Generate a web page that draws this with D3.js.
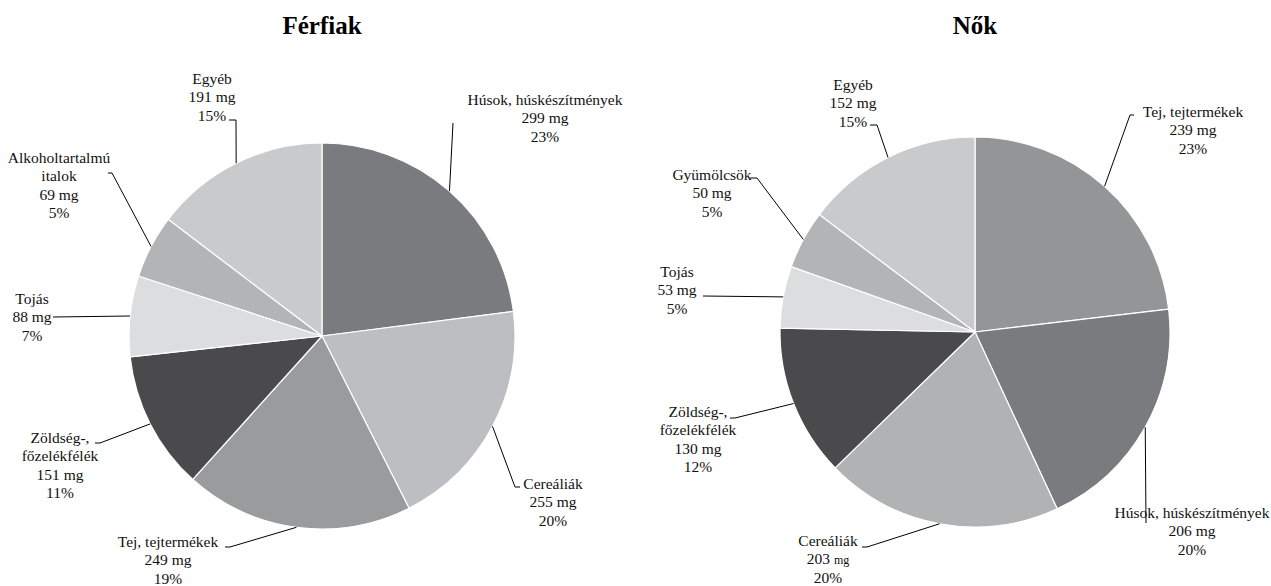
<!DOCTYPE html>
<html lang="hu">
  <head>
    <meta charset="UTF-8" />
    <script src="https://d3js.org/d3.v7.min.js"></script>
    <title>Férfiak / Nők</title>
    <style>
      body { margin: 0; background: #fff; }
    </style>
  </head>
  <body>
    <svg id="chart" width="1271" height="586"></svg>
    <script>
      // Férfiak
      const menCategories = ["Húsok, húskészítmények", "Cereáliák", "Tej, tejtermékek",
        "Zöldség-,|főzelékfélék", "Tojás", "Alkoholtartalmú|italok", "Egyéb"];
      const menValues = [299, 255, 249, 151, 88, 69, 191];
      const menPercents = [23, 20, 19, 11, 7, 5, 15];
      const menColors = ["#7a7b7f", "#bdbec1", "#9a9b9d", "#4a4a4c", "#dcdddf", "#b3b4b6", "#c9cacc"];

      // Nők
      const womenCategories = ["Tej, tejtermékek", "Húsok, húskészítmények", "Cereáliák",
        "Zöldség-,|főzelékfélék", "Tojás", "Gyümölcsök", "Egyéb"];
      const womenValues = [239, 206, 203, 130, 53, 50, 152];
      const womenPercents = [23, 20, 20, 12, 5, 5, 15];
      const womenColors = ["#949597", "#7a7b7f", "#b0b2b4", "#4a4a4c", "#dcdddf", "#b3b4b6", "#c9cacc"];

      // label placement relative to pie centre: text centre x, first baseline y,
      // leader start point and elbow
      const menLabelPos = [
        { tx: 223, ty: -231, s: [131, -213], e: [131, -213] },
        { tx: 231, ty: 153, s: [198, 151], e: [193, 151] },
        { tx: -154, ty: 211, s: [-97, 211], e: [-92, 211] },
        { tx: -262, ty: 107, s: [-227, 107], e: [-222, 107] },
        { tx: -290, ty: -32, s: [-269, -19], e: [-269, -19] },
        { tx: -263, ty: -173, s: [-214, -163], e: [-210, -163] },
        { tx: -110, ty: -252, s: [-93, -216], e: [-86, -216] },
      ];
      const womenLabelPos = [
        { tx: 218, ty: -215, s: [159, -217], e: [155, -217] },
        { tx: 217, ty: 186, s: [171, 191], e: [171, 191] },
        { tx: -147, ty: 214, s: [-113, 215], e: [-108, 215], smallUnit: true },
        { tx: -277, ty: 85, s: [-245, 86], e: [-240, 86] },
        { tx: -298, ty: -55, s: [-272, -36], e: [-272, -36] },
        { tx: -263, ty: -152, s: [-225, -154], e: [-218, -154] },
        { tx: -122, ty: -242, s: [-105, -207], e: [-98, -207] },
      ];

      const svg = d3.select("#chart");
      const serif = "'Liberation Serif', 'Times New Roman', Times, serif";
      const lineH = 18.3;

      const drawPie = (title, cats, vals, pcts, colors, pos, cx, cy, r) => {
        const g = svg.append("g").attr("transform", `translate(${cx},${cy})`);

        svg.append("text")
          .attr("x", cx)
          .attr("y", 34)
          .attr("text-anchor", "middle")
          .attr("font-family", serif)
          .attr("font-size", 25)
          .attr("font-weight", "bold")
          .attr("fill", "#000")
          .text(title);

        const data = cats.map((c, i) => ({ cat: c, value: vals[i], pct: pcts[i], color: colors[i], pos: pos[i] }));
        const pie = d3.pie().sort(null).value((d) => d.value);
        const arc = d3.arc().innerRadius(0).outerRadius(r);
        const edge = d3.arc().innerRadius(r).outerRadius(r);
        const arcs = pie(data);

        g.selectAll("path.slice")
          .data(arcs)
          .join("path")
          .attr("class", "slice")
          .attr("d", arc)
          .attr("fill", (d) => d.data.color)
          .attr("stroke", "#fff")
          .attr("stroke-width", 1.2)
          .attr("stroke-linejoin", "round");

        // leader lines
        g.selectAll("path.leader")
          .data(arcs)
          .join("path")
          .attr("class", "leader")
          .attr("fill", "none")
          .attr("stroke", "#000")
          .attr("stroke-width", 1)
          .attr("d", (d) => {
            const p = d.data.pos;
            return d3.line()([p.s, p.e, edge.centroid(d)]);
          });

        // labels
        const lab = g.selectAll("text.lab")
          .data(arcs)
          .join("text")
          .attr("class", "lab")
          .attr("text-anchor", "middle")
          .attr("font-family", serif)
          .attr("font-size", 15.5)
          .attr("fill", "#111")
          .attr("x", (d) => d.data.pos.tx)
          .attr("y", (d) => d.data.pos.ty);

        lab.each(function (d) {
          const t = d3.select(this);
          const lines = d.data.cat.split("|");
          lines.forEach((ln, i) => {
            t.append("tspan").attr("x", d.data.pos.tx).attr("dy", i === 0 ? 0 : lineH).text(ln);
          });
          const mg = t.append("tspan").attr("x", d.data.pos.tx).attr("dy", lineH);
          if (d.data.pos.smallUnit) {
            mg.text(d.data.value + " ");
            mg.append("tspan").attr("font-size", 12).text("mg");
          } else {
            mg.text(d.data.value + " mg");
          }
          t.append("tspan").attr("x", d.data.pos.tx).attr("dy", lineH).text(d.data.pct + "%");
        });
      };

      drawPie("Férfiak", menCategories, menValues, menPercents, menColors, menLabelPos, 322, 336, 193);
      drawPie("Nők", womenCategories, womenValues, womenPercents, womenColors, womenLabelPos, 975, 332, 195);
    </script>
  </body>
</html>
